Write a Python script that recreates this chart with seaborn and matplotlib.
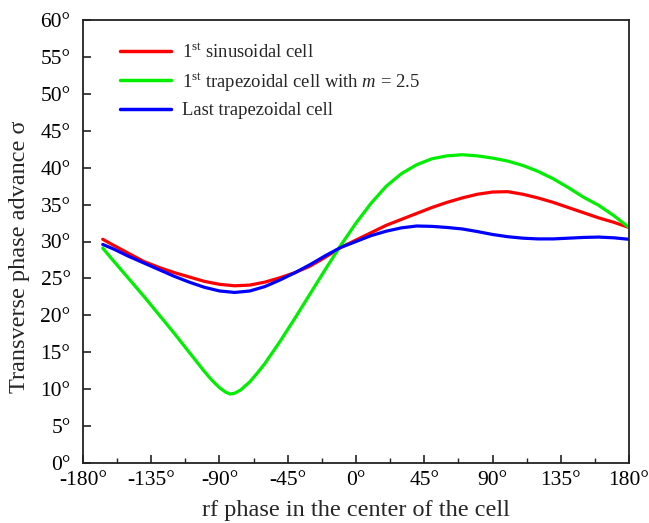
import numpy as np
import pandas as pd
import matplotlib
matplotlib.use("Agg")
import matplotlib.pyplot as plt
import seaborn as sns
from matplotlib.ticker import MultipleLocator, FuncFormatter

# ---- data ----
sin_x = [-167, -160, -150, -140, -130, -120, -110, -100, -90, -80, -70, -60, -50, -40, -30,
         -20, -10, 0, 10, 20, 30, 40, 50, 60, 70, 80, 90, 100, 110, 120, 130, 140, 150, 160,
         170, 180]
sin_y = [30.3, 29.5, 28.4, 27.3, 26.5, 25.8, 25.2, 24.6, 24.2, 24.0, 24.1, 24.5, 25.1, 25.8,
         26.7, 27.9, 29.2, 30.2, 31.2, 32.2, 33.0, 33.8, 34.6, 35.3, 35.9, 36.4, 36.7, 36.75,
         36.4, 35.9, 35.3, 34.6, 33.9, 33.2, 32.6, 31.9]

trap_x = [-167, -160, -150, -140, -130, -120, -110, -105, -100, -95, -90, -86, -83, -80, -76,
          -70, -65, -60, -50, -40, -30, -20, -10, 0, 10, 20, 30, 40, 50, 60, 70, 80, 90, 100,
          110, 120, 130, 140, 150, 160, 170, 180]
trap_y = [29.1, 27.4, 25.0, 22.6, 20.1, 17.6, 15.0, 13.7, 12.4, 11.2, 10.2, 9.6, 9.35, 9.45,
          9.9, 11.0, 12.2, 13.5, 16.5, 19.7, 23.0, 26.3, 29.5, 32.5, 35.2, 37.5, 39.2, 40.4,
          41.2, 41.6, 41.75, 41.6, 41.3, 40.9, 40.3, 39.5, 38.5, 37.3, 36.0, 34.9, 33.5, 31.9]

last_x = [-167, -160, -150, -140, -130, -120, -110, -100, -90, -80, -70, -60, -50, -40, -30,
          -20, -10, 0, 10, 20, 30, 40, 50, 60, 70, 80, 90, 100, 110, 120, 130, 140, 150, 160,
          170, 180]
last_y = [29.6, 29.0, 28.0, 27.1, 26.2, 25.3, 24.5, 23.8, 23.3, 23.1, 23.3, 23.9, 24.8, 25.8,
          26.9, 28.1, 29.2, 30.0, 30.8, 31.4, 31.85, 32.1, 32.05, 31.9, 31.7, 31.35, 30.95,
          30.65, 30.45, 30.35, 30.35, 30.45, 30.55, 30.6, 30.5, 30.3]

labels = [r"1$^{\mathrm{st}}$ sinusoidal cell",
          r"1$^{\mathrm{st}}$ trapezoidal cell with $m$ = 2.5",
          "Last trapezoidal cell"]
colors = ["#ff0000", "#00ee00", "#0000ff"]

x_label = "rf phase in the center of the cell"
y_label = "Transverse phase advance σ"

# ---- build long-form table ----
frames = []
for lab, xs, ys in zip(labels, [sin_x, trap_x, last_x], [sin_y, trap_y, last_y]):
    frames.append(pd.DataFrame({"phase": xs, "sigma": ys, "series": lab}))
df = pd.concat(frames, ignore_index=True)

sns.set_style("ticks")
plt.rcParams["font.family"] = ["Liberation Serif", "DejaVu Serif"]
plt.rcParams["mathtext.fontset"] = "custom"
plt.rcParams["mathtext.rm"] = "Liberation Serif"
plt.rcParams["mathtext.it"] = "Liberation Serif:italic"

fig = plt.figure(figsize=(6.49, 5.23), dpi=100)
ax = fig.add_axes([83 / 649, 60 / 523, (629 - 83) / 649, (463 - 20) / 523])

sns.lineplot(data=df, x="phase", y="sigma", hue="series", hue_order=labels,
             palette=colors, linewidth=2.3, sort=False, ax=ax, estimator=None)

ax.set_xlim(-180, 180)
ax.set_ylim(0, 60)
ax.xaxis.set_major_locator(MultipleLocator(45))
ax.xaxis.set_minor_locator(MultipleLocator(22.5))
ax.yaxis.set_major_locator(MultipleLocator(5))
ax.xaxis.set_major_formatter(FuncFormatter(lambda v, p: f"{int(round(v))}°"))
ax.yaxis.set_major_formatter(FuncFormatter(lambda v, p: f"{int(round(v))}°"))
ax.tick_params(axis="both", which="major", direction="in", length=6, width=1.2,
               labelsize=15.5, colors="#222222", labelcolor="black")
ax.tick_params(axis="y", which="major", pad=9)
ax.tick_params(axis="x", which="major", pad=6)
ax.tick_params(axis="x", which="minor", direction="in", length=3.5, width=1.0,
               colors="#222222")
for s in ax.spines.values():
    s.set_visible(True)
    s.set_linewidth(1.3)
    s.set_color("#222222")

ax.set_xlabel(x_label, fontsize=17.5)
ax.set_ylabel(y_label, fontsize=17.5)
ax.xaxis.set_label_coords(0.5, -0.083)
ax.xaxis.label.set_va("top")
ax.yaxis.set_label_coords(-0.097, 0.465)

leg = ax.legend(loc="upper left", bbox_to_anchor=(0.038, 0.985), frameon=False,
                fontsize=13.4, handlelength=2.7, handletextpad=0.6, labelspacing=0.5)
for line in leg.get_lines():
    line.set_linewidth(2.5)

fig.savefig("out.png", dpi=100)
